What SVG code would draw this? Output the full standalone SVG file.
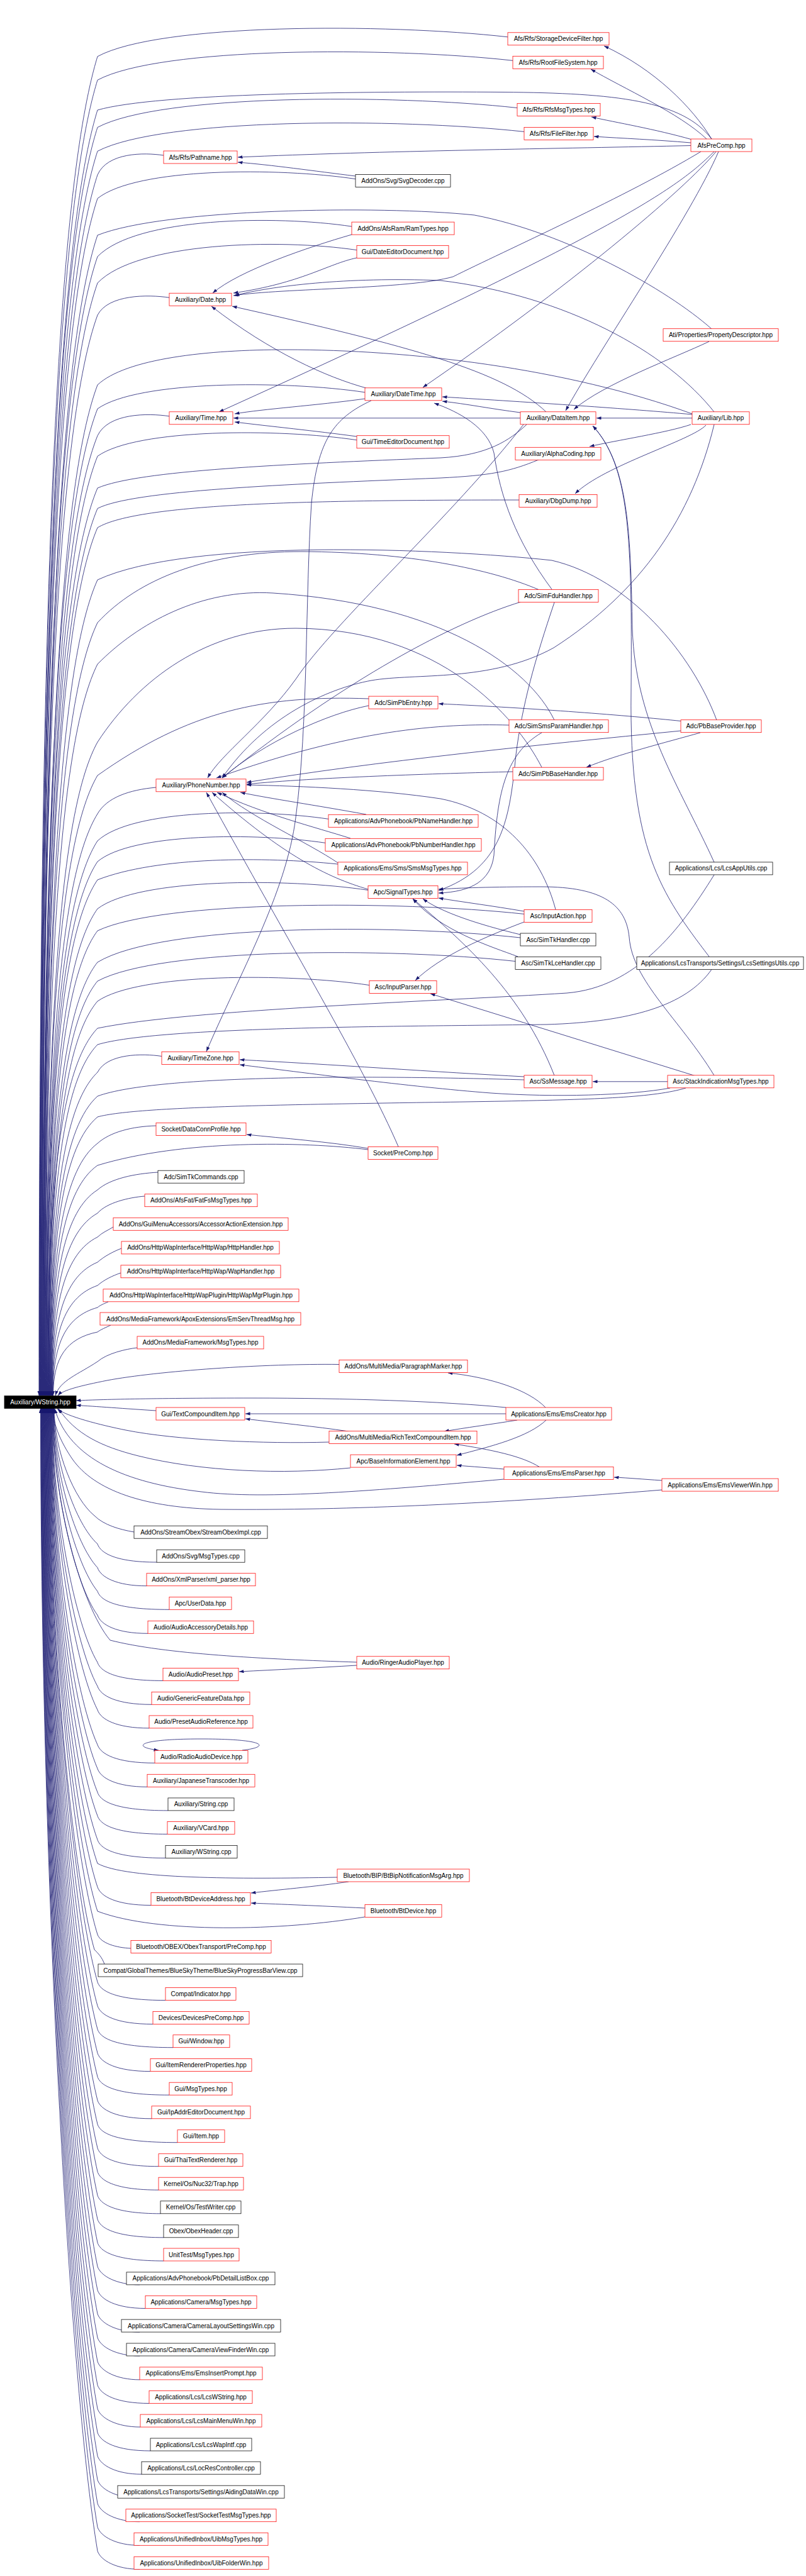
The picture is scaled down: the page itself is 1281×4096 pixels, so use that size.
<svg xmlns="http://www.w3.org/2000/svg" width="1281" height="4096" viewBox="0 0 1281 4096">
<defs>
<style>
.r rect{fill:#fff;stroke:#f00;stroke-width:.75}
.k rect{fill:#fff;stroke:#000;stroke-width:.75}
text{font-family:"Liberation Sans",Arial,sans-serif;font-size:10px;text-anchor:middle;fill:#000}
#root rect{fill:#000;stroke:#000;stroke-width:.75}
#root text{fill:#fff}
#edges path{fill:none;stroke:#191970;stroke-width:.8;marker-end:url(#ah)}
</style>
<marker id="ah" markerUnits="userSpaceOnUse" viewBox="0 0 10 7" markerWidth="7.5" markerHeight="5.3" refX="10" refY="3.5" orient="auto"><path d="M0,0 L10,3.5 L0,7 z" fill="#191970"/></marker>
</defs>
<rect width="1281" height="4096" fill="#fff"/>
<g id="edges">
<path d="M807,58.8 C611,36.8 253,36.8 155,89.8 C90,302.7 62,941.5 62,2219"/>
<path d="M815,96.3 C617,74.3 254,74.3 155,127.3 C90.3,336.5 62.5,964 62.5,2219"/>
<path d="M822,171.5 C622,149.5 255,149.5 155,202.5 C90.6,404.2 63,1009.1 63,2219"/>
<path d="M833,209.4 C630,187.4 257,187.4 155,240.4 C91,438.3 63.5,1031.8 63.5,2219"/>
<path d="M1131,221 C1085,160 980,148 800,146.5 C580,145 250,148 155,175 C91.3,382 64,994 64,2219"/>
<path d="M260,247 C228.5,242.3 170.8,242.3 155,278 C91.7,472 64.5,1054 64.5,2219"/>
<path d="M565,284.6 C442,266.1 216.5,266.1 155,315.6 C92,505.9 65,1077 65,2219"/>
<path d="M559,360.1 C438,341.9 216,345 155,408 C92.4,589 65.5,1132 65.5,2219"/>
<path d="M567,397.6 C443,379.1 217,385 155,450 C92.7,627 66,1158 66,2219"/>
<path d="M269,473.2 C234.8,468.1 172.1,468.1 155,501 C93,672.8 66.5,1188 66.5,2219"/>
<path d="M1131,523 C1060,460 900,370 754,342 C600,326 260,332 155,374 C93.4,558.5 67,1112 67,2219"/>
<path d="M580,623.8 C452.5,604.7 218.8,604.7 155,650 C93.8,807 67.5,1277.6 67.5,2219"/>
<path d="M269,661.8 C234.8,656.7 172.1,656.7 155,692.8 C94.1,845.4 68,1303.2 68,2219"/>
<path d="M837,675 C810,700 775,724 700,728 C450,738 220,748 155,776 C94.5,920.3 68.5,1353.2 68.5,2219"/>
<path d="M1100,658 C900,585 650,556 455,556 C330,556 200,570 155,612 C94.8,772.7 69,1254.8 69,2219"/>
<path d="M567,699.7 C443.4,681.2 216.8,681.2 155,725.4 C95.2,874.8 69.5,1322.8 69.5,2219"/>
<path d="M856,731 C810,750 780,756 700,760 C450,770 210,780 155,808.5 C95.5,949.6 70,1372.7 70,2219"/>
<path d="M825,795 C500,795 220,800 155,839 C96,977 70.5,1391 70.5,2219"/>
<path d="M856,937.5 C780,905 650,878 480,877 C330,877 220,920 155,990 C96.2,1112.9 71,1481.6 71,2219"/>
<path d="M1139,1145 C1100,1040 1000,920 877,891 C700,872 300,855 155,922 C96.6,1051.7 71.5,1440.8 71.5,2219"/>
<path d="M881,1145 C840,1060 700,960 434,943 C320,936 220,990 155,1056 C96.9,1172.3 72,1521.2 72,2219"/>
<path d="M586,1111 C420,1105 300,1130 155,1233 C97.3,1331.6 72.5,1627.4 72.5,2219"/>
<path d="M861,1220 C820,1140 700,1000 470,999 C330,999 220,1080 155,1180 C97.6,1283.9 73,1595.6 73,2219"/>
<path d="M248,1252 C205,1256 170,1268 155,1294 C98,1386.5 73.5,1664 73.5,2219"/>
<path d="M522,1302.3 C412,1285.8 210,1285.8 155,1337 C98.3,1425.2 74,1689.8 74,2219"/>
<path d="M517,1340.3 C408.4,1324 209.3,1324 155,1370 C98.7,1454.9 74.5,1709.6 74.5,2219"/>
<path d="M537,1374 C420,1362 250,1362 155,1399 C99,1481 75,1727 75,2219"/>
<path d="M1135,1391 C1080,1480 1010,1570 901,1579 C700,1592 300,1605 155,1635 C99.4,1693.4 75.5,1868.6 75.5,2219"/>
<path d="M585,1415.4 C456,1396 219.5,1396 155,1445 C99.7,1522.4 76,1754.6 76,2219"/>
<path d="M833,1453.4 C629.6,1431.4 256.7,1431.4 155,1480 C100,1553.9 76.5,1775.6 76.5,2219"/>
<path d="M827,1491 C625.4,1469 255.8,1469 155,1530 C100.4,1598.9 77,1805.6 77,2219"/>
<path d="M819,1528.5 C619.8,1506.5 254.6,1506.5 155,1560 C100.8,1625.9 77.5,1823.6 77.5,2219"/>
<path d="M1131,1541.5 C1090,1600 1000,1625 869,1629 C650,1632 250,1632 155,1661 C101.1,1716.8 78,1884.2 78,2219"/>
<path d="M587,1566.5 C457.4,1547.1 219.8,1547.1 155,1592 C101.5,1654.7 78.5,1842.8 78.5,2219"/>
<path d="M257,1679.5 C226.4,1674.9 170.3,1674.9 155,1705 C101.8,1756.4 79,1910.6 79,2219"/>
<path d="M833,1717 C600,1710 250,1708 155,1743 C102.2,1790.6 79.5,1933.4 79.5,2219"/>
<path d="M1090,1730 C1040,1745 950,1748 800,1751 C500,1756 220,1758 155,1776 C102.5,1820.3 80,1953.2 80,2219"/>
<path d="M248,1790 C210,1791 175,1800 155,1818 C102.9,1858.1 80.5,1978.4 80.5,2219"/>
<path d="M585,1828 C480,1815 290,1812 155,1853 C103.2,1889.6 81,1999.4 81,2219"/>
<path d="M251,1864 C215,1866 175,1874 155,1892 C103.6,1924.7 81.5,2022.8 81.5,2219"/>
<path d="M230,1902 C205,1904 170,1912 155,1929 C103.9,1958 82,2045 82,2219"/>
<path d="M180,1951 C172,1956 162,1960 155,1967 C104.3,1992.2 82.5,2067.8 82.5,2219"/>
<path d="M193,1985 C180,1990 165,1998 155,2007 C104.6,2028.2 83,2091.8 83,2219"/>
<path d="M192,2024 C180,2028 165,2035 155,2044 C104.9,2061.5 83.5,2114 83.5,2219"/>
<path d="M172,2070 C165,2073 158,2076 155,2079 C105.3,2093 84,2135 84,2219"/>
<path d="M176,2107 C168,2111 160,2114 155,2118 C105.7,2128.1 84.5,2158.4 84.5,2219"/>
<path d="M218,2143 C200,2145 170,2152 155,2165 C125,2185 95,2195 88,2219"/>
<path d="M539,2169.5 C420,2168 250,2180 170,2195 C130,2203 100,2210 92,2219"/>
<path d="M248,2243 C200,2240 150,2236 121,2234.5"/>
<path d="M804,2238 C700,2228 550,2223 400,2223 C250,2223 170,2225 121,2227"/>
<path d="M523,2293 C420,2296 280,2290 200,2274 C160,2266 105,2252 91,2240"/>
<path d="M557,2334 C450,2345 320,2340 220,2315 C160,2300 120,2280 93,2240"/>
<path d="M801,2352 C600,2370 420,2385 320,2372 C200,2358 110,2320 87,2240"/>
<path d="M1052,2369 C800,2390 550,2402 350,2400 C230,2398 150,2370 115,2320 C98,2295 85,2268 84,2240"/>
<path d="M567,2643 C420,2638 260,2630 175,2608 C129,2553 83.5,2386.6 83.5,2239"/>
<path d="M213,2436 C190,2432 165,2425 150,2410 C118,2384 86,2307 86,2239"/>
<path d="M249,2484 C185,2484 160,2470 155,2455 C120,2423 85.5,2325.5 85.5,2239"/>
<path d="M233,2521.7 C185,2521.7 160,2507.7 155,2492.7 C120,2454.7 85,2340.5 85,2239"/>
<path d="M269,2559.3 C185,2559.3 160,2545.3 155,2530.3 C119.8,2486.6 84.5,2355.5 84.5,2239"/>
<path d="M235,2597.3 C185,2597.3 160,2583.3 155,2568.3 C119.5,2518.9 84,2370.7 84,2239"/>
<path d="M259,2672.4 C185,2672.4 160,2658.4 155,2643.4 C119,2582.7 83,2400.8 83,2239"/>
<path d="M241,2710.3 C185,2710.3 160,2696.3 155,2681.3 C118.8,2615 82.5,2415.9 82.5,2239"/>
<path d="M237,2747.9 C185,2747.9 160,2733.9 155,2718.9 C118.5,2646.9 82,2431 82,2239"/>
<path d="M246,2803.3 C185,2803.3 160,2789.3 155,2774.3 C118.3,2694 81.5,2453.1 81.5,2239"/>
<path d="M234,2841.3 C185,2841.3 160,2827.3 155,2812.3 C118,2726.3 81,2468.3 81,2239"/>
<path d="M267,2878.9 C185,2878.9 160,2864.9 155,2849.9 C117.8,2758.3 80.5,2483.4 80.5,2239"/>
<path d="M266,2916.4 C185,2916.4 160,2902.4 155,2887.4 C117.5,2790.1 80,2498.4 80,2239"/>
<path d="M263,2954.4 C185,2954.4 160,2940.4 155,2925.4 C117.3,2822.4 79.5,2513.6 79.5,2239"/>
<path d="M536,2985 C380,2988 200,2988 155,2963 C117,2854.4 79,2528.6 79,2239"/>
<path d="M240,3029.5 C185,3029.5 160,3015.5 155,3000.5 C116.8,2886.3 78.5,2543.6 78.5,2239"/>
<path d="M580,3048 C450,3070 250,3075 155,3039 C116.5,2919 78,2559 78,2239"/>
<path d="M208,3098 C185,3097 160,3090 155,3076 C116.3,2950.4 77.5,2573.8 77.5,2239"/>
<path d="M166,3123 C162,3112 156,3106 150,3100 C113.5,2971 77,2583.4 77,2239"/>
<path d="M263,3180.6 C185,3180.6 160,3166.6 155,3151.6 C115.8,3014.7 76.5,2604 76.5,2239"/>
<path d="M243,3218.5 C185,3218.5 160,3204.5 155,3189.5 C115.5,3046.9 76,2619.2 76,2239"/>
<path d="M275,3255.7 C185,3255.7 160,3241.7 155,3226.7 C115.3,3078.5 75.5,2634.1 75.5,2239"/>
<path d="M239,3293.6 C185,3293.6 160,3279.6 155,3264.6 C115,3110.8 75,2649.2 75,2239"/>
<path d="M269,3331.2 C185,3331.2 160,3317.2 155,3302.2 C114.8,3142.7 74.5,2664.3 74.5,2239"/>
<path d="M241,3368.8 C185,3368.8 160,3354.8 155,3339.8 C114.5,3174.7 74,2679.3 74,2239"/>
<path d="M282,3406.7 C185,3406.7 160,3392.7 155,3377.7 C114.3,3206.9 73.5,2694.5 73.5,2239"/>
<path d="M252,3444.7 C185,3444.7 160,3430.7 155,3415.7 C114,3239.2 73,2709.7 73,2239"/>
<path d="M252,3482.2 C185,3482.2 160,3468.2 155,3453.2 C113.8,3271.1 72.5,2724.7 72.5,2239"/>
<path d="M255,3519.8 C185,3519.8 160,3505.8 155,3490.8 C113.5,3303 72,2739.7 72,2239"/>
<path d="M260,3557.8 C185,3557.8 160,3543.8 155,3528.8 C113.3,3335.3 71.5,2754.9 71.5,2239"/>
<path d="M260,3595 C185,3595 160,3581 155,3566 C113,3367 71,2769.8 71,2239"/>
<path d="M222,3632.9 C185,3632.9 160,3618.9 155,3603.9 C112.8,3399.2 70.5,2785 70.5,2239"/>
<path d="M231,3670.5 C185,3670.5 160,3656.5 155,3641.5 C112.5,3431.1 70,2800 70,2239"/>
<path d="M222,3708.1 C185,3708.1 160,3694.1 155,3679.1 C112.3,3463.1 69.5,2815 69.5,2239"/>
<path d="M222,3746 C185,3746 160,3732 155,3717 C112,3495.3 69,2830.2 69,2239"/>
<path d="M222,3783.9 C185,3783.9 160,3769.9 155,3754.9 C111.8,3527.5 68.5,2845.4 68.5,2239"/>
<path d="M237,3821.5 C185,3821.5 160,3807.5 155,3792.5 C111.5,3559.5 68,2860.4 68,2239"/>
<path d="M223,3859.1 C185,3859.1 160,3845.1 155,3830.1 C111.3,3591.4 67.5,2875.4 67.5,2239"/>
<path d="M239,3897 C185,3897 160,3883 155,3868 C111,3623.6 67,2890.6 67,2239"/>
<path d="M225,3934.2 C185,3934.2 160,3920.2 155,3905.2 C110.8,3655.3 66.5,2905.5 66.5,2239"/>
<path d="M222,3972.2 C185,3972.2 160,3958.2 155,3943.2 C110.5,3687.6 66,2920.7 66,2239"/>
<path d="M222,4009.7 C185,4009.7 160,3995.7 155,3980.7 C110.3,3719.4 65.5,2935.7 65.5,2239"/>
<path d="M222,4047.3 C185,4047.3 160,4033.3 155,4018.3 C110,3751.4 65,2950.7 65,2239"/>
<path d="M222,4085.3 C185,4085.3 160,4071.3 155,4056.3 C109.8,3783.7 64.5,2965.9 64.5,2239"/>
<path d="M385,2783 C430,2778 425,2765 320,2765 C215,2765 210,2778 252,2783"/>
<path d="M1131,221 C1100,170 1040,110 960,73"/>
<path d="M1123,221 C1080,180 990,140 939,110"/>
<path d="M1100,222 C1040,205 980,195 940,186"/>
<path d="M1098,227 C1040,222 990,220 944,217"/>
<path d="M1098,231.5 C900,236 600,240 378,250"/>
<path d="M565,280 C500,272 430,262 378,258"/>
<path d="M1114,241 C1000,310 800,400 720,440 C650,460 450,458 371,470"/>
<path d="M1135,241 C1080,295 1000,360 348,655"/>
<path d="M1138,241 C1090,300 900,460 672,616"/>
<path d="M1142,241 C1100,340 950,560 899,653"/>
<path d="M559,373 C490,393 380,430 338,466"/>
<path d="M567,410 C520,420 480,450 371,466"/>
<path d="M1135,655 C1060,560 900,470 700,446 C550,440 430,455 373,470"/>
<path d="M582,617 C520,600 430,560 336,487"/>
<path d="M868,655 C800,590 650,550 369,487"/>
<path d="M580,634 C500,645 420,650 373,658"/>
<path d="M827,664.8 L371,664.8"/>
<path d="M567,694 C500,685 430,678 373,671"/>
<path d="M1100,659 C1000,650 850,640 703,631"/>
<path d="M827,656 C780,650 740,642 703,638"/>
<path d="M877,937 C820,860 795,790 785,720 C775,680 730,655 690,641"/>
<path d="M1127,543 C1070,570 960,610 912,651"/>
<path d="M1100,664.8 L948,664.8"/>
<path d="M1127,1521 C1050,1420 1000,1350 1003,1100 C1005,850 1000,740 942,677"/>
<path d="M1135,1371 C1080,1250 1010,1150 1005,1000 C1002,850 1000,740 942,677"/>
<path d="M1098,675 C1060,688 980,700 937,710"/>
<path d="M1122,676 C1100,700 960,740 914,785"/>
<path d="M1135,675 C1100,820 1020,940 880,1030 C780,1085 660,1070 590,1082 C520,1095 420,1140 353,1237"/>
<path d="M832,675 C720,820 530,990 470,1080 C420,1150 350,1200 330,1237"/>
<path d="M828,957 C720,990 550,1080 353,1237"/>
<path d="M586,1122 C520,1135 420,1180 353,1237"/>
<path d="M809,1153 C700,1150 560,1160 344,1237"/>
<path d="M1082,1146.5 C1000,1138 850,1126 697,1119"/>
<path d="M1082,1162 C850,1185 600,1210 392,1244"/>
<path d="M1113,1165 C1060,1180 980,1200 932,1220"/>
<path d="M815,1227 C700,1230 500,1236 392,1247"/>
<path d="M582,1295 C500,1280 430,1270 382,1260"/>
<path d="M557,1333 C500,1315 420,1295 345,1260"/>
<path d="M537,1372 C490,1340 400,1300 353,1260"/>
<path d="M585,1414 C520,1395 450,1360 337,1260"/>
<path d="M633,1823 C580,1700 460,1500 328,1260"/>
<path d="M883,1446 C860,1360 800,1290 700,1270 C600,1255 480,1250 392,1248"/>
<path d="M861,1165 C800,1200 790,1270 785,1360 C780,1400 750,1418 697,1420"/>
<path d="M881,958 C850,1050 830,1120 820,1200 C810,1300 800,1380 697,1416"/>
<path d="M833,1449 C780,1440 740,1435 697,1428"/>
<path d="M827,1486 C760,1470 700,1450 672,1429"/>
<path d="M823,1521 C780,1505 700,1480 656,1429"/>
<path d="M1135,1710 C1080,1620 1005,1560 1000,1490 C995,1440 960,1410 860,1410 C780,1410 730,1412 697,1414"/>
<path d="M833,1466 C770,1490 700,1520 660,1559"/>
<path d="M1106,1711 L684,1580"/>
<path d="M881,1710 C830,1580 740,1500 656,1429"/>
<path d="M833,1712 C700,1705 520,1692 381,1685"/>
<path d="M1065,1730 C1000,1742 880,1745 780,1738 C650,1728 480,1705 381,1693"/>
<path d="M590,637 C530,665 505,700 495,800 C485,950 490,1150 470,1300 C455,1420 380,1550 328,1672"/>
<path d="M1061,1719.8 L942,1719.8"/>
<path d="M585,1826 C520,1815 450,1810 392,1804"/>
<path d="M804,2248 L390,2248"/>
<path d="M867,2238 C840,2210 780,2190 712,2183"/>
<path d="M822,2258 C780,2265 740,2270 706,2276"/>
<path d="M868,2258 C840,2285 780,2300 726,2314"/>
<path d="M554,2276 C500,2268 440,2262 390,2256"/>
<path d="M858,2333 C830,2315 780,2305 722,2296"/>
<path d="M801,2336 C780,2334 750,2332 726,2330"/>
<path d="M1052,2354 C1020,2352 1000,2350 976,2349"/>
<path d="M567,2648 C500,2652 440,2655 380,2658"/>
<path d="M554,2992 C500,3000 440,3005 399,3010"/>
<path d="M580,3034 C500,3030 450,3028 399,3026"/>
</g>
<g id="nodes">
<g id="n1" class="r"><rect x="807" y="51.8" width="161" height="20"/><text x="887.5" y="65.3">Afs/Rfs/StorageDeviceFilter.hpp</text></g>
<g id="n2" class="r"><rect x="815" y="89.3" width="144" height="20"/><text x="887" y="102.8">Afs/Rfs/RootFileSystem.hpp</text></g>
<g id="n3" class="r"><rect x="822" y="164.5" width="132" height="20"/><text x="888" y="178">Afs/Rfs/RfsMsgTypes.hpp</text></g>
<g id="n4" class="r"><rect x="833" y="202.4" width="110" height="20"/><text x="888" y="215.9">Afs/Rfs/FileFilter.hpp</text></g>
<g id="n5" class="r"><rect x="1098" y="221" width="97" height="20"/><text x="1146.5" y="234.5">AfsPreComp.hpp</text></g>
<g id="n6" class="r"><rect x="260" y="240" width="117" height="20"/><text x="318.5" y="253.5">Afs/Rfs/Pathname.hpp</text></g>
<g id="n7" class="k"><rect x="565" y="277.6" width="151" height="20"/><text x="640.5" y="291.1">AddOns/Svg/SvgDecoder.cpp</text></g>
<g id="n8" class="r"><rect x="559" y="353.1" width="163" height="20"/><text x="640.5" y="366.6">AddOns/AfsRam/RamTypes.hpp</text></g>
<g id="n9" class="r"><rect x="567" y="390.6" width="146" height="20"/><text x="640" y="404.1">Gui/DateEditorDocument.hpp</text></g>
<g id="n10" class="r"><rect x="269" y="466.2" width="99" height="20"/><text x="318.5" y="479.7">Auxiliary/Date.hpp</text></g>
<g id="n11" class="r"><rect x="1054" y="522.7" width="183" height="20"/><text x="1145.5" y="536.2">Ati/Properties/PropertyDescriptor.hpp</text></g>
<g id="n12" class="r"><rect x="580" y="616.8" width="122" height="20"/><text x="641" y="630.3">Auxiliary/DateTime.hpp</text></g>
<g id="n13" class="r"><rect x="269" y="654.8" width="101" height="20"/><text x="319.5" y="668.3">Auxiliary/Time.hpp</text></g>
<g id="n14" class="r"><rect x="827" y="654.8" width="120" height="20"/><text x="887" y="668.3">Auxiliary/DataItem.hpp</text></g>
<g id="n15" class="r"><rect x="1100" y="654.8" width="91" height="20"/><text x="1145.5" y="668.3">Auxiliary/Lib.hpp</text></g>
<g id="n16" class="r"><rect x="567" y="692.7" width="147" height="20"/><text x="640.5" y="706.2">Gui/TimeEditorDocument.hpp</text></g>
<g id="n17" class="r"><rect x="819" y="711.3" width="136" height="20"/><text x="887" y="724.8">Auxiliary/AlphaCoding.hpp</text></g>
<g id="n18" class="r"><rect x="825" y="786.5" width="124" height="20"/><text x="887" y="800">Auxiliary/DbgDump.hpp</text></g>
<g id="n19" class="r"><rect x="824" y="937.5" width="127" height="20"/><text x="887.5" y="951">Adc/SimFduHandler.hpp</text></g>
<g id="n20" class="r"><rect x="586" y="1107.1" width="110" height="20"/><text x="641" y="1120.6">Adc/SimPbEntry.hpp</text></g>
<g id="n21" class="r"><rect x="809" y="1144.7" width="158" height="20"/><text x="888" y="1158.2">Adc/SimSmsParamHandler.hpp</text></g>
<g id="n22" class="r"><rect x="1082" y="1144.7" width="128" height="20"/><text x="1146" y="1158.2">Adc/PbBaseProvider.hpp</text></g>
<g id="n23" class="r"><rect x="815" y="1220.2" width="144" height="20"/><text x="887" y="1233.7">Adc/SimPbBaseHandler.hpp</text></g>
<g id="n24" class="r"><rect x="248" y="1238.8" width="143" height="20"/><text x="319.5" y="1252.3">Auxiliary/PhoneNumber.hpp</text></g>
<g id="n25" class="r"><rect x="522" y="1295.3" width="238" height="20"/><text x="641" y="1308.8">Applications/AdvPhonebook/PbNameHandler.hpp</text></g>
<g id="n26" class="r"><rect x="517" y="1333.3" width="248" height="20"/><text x="641" y="1346.8">Applications/AdvPhonebook/PbNumberHandler.hpp</text></g>
<g id="n27" class="r"><rect x="537" y="1370.9" width="206" height="20"/><text x="640" y="1384.4">Applications/Ems/Sms/SmsMsgTypes.hpp</text></g>
<g id="n28" class="k"><rect x="1064" y="1370.9" width="164" height="20"/><text x="1146" y="1384.4">Applications/Lcs/LcsAppUtils.cpp</text></g>
<g id="n29" class="r"><rect x="585" y="1408.4" width="111" height="20"/><text x="640.5" y="1421.9">Apc/SignalTypes.hpp</text></g>
<g id="n30" class="r"><rect x="833" y="1446.4" width="108" height="20"/><text x="887" y="1459.9">Asc/InputAction.hpp</text></g>
<g id="n31" class="k"><rect x="827" y="1484" width="120" height="20"/><text x="887" y="1497.5">Asc/SimTkHandler.cpp</text></g>
<g id="n32" class="k"><rect x="819" y="1521.5" width="136" height="20"/><text x="887" y="1535">Asc/SimTkLceHandler.cpp</text></g>
<g id="n33" class="k"><rect x="1012" y="1521.5" width="265" height="20"/><text x="1144.5" y="1535">Applications/LcsTransports/Settings/LcsSettingsUtils.cpp</text></g>
<g id="n34" class="r"><rect x="587" y="1559.5" width="107" height="20"/><text x="640.5" y="1573">Asc/InputParser.hpp</text></g>
<g id="n35" class="r"><rect x="257" y="1672.5" width="123" height="20"/><text x="318.5" y="1686">Auxiliary/TimeZone.hpp</text></g>
<g id="n36" class="r"><rect x="833" y="1709.8" width="108" height="20"/><text x="887" y="1723.3">Asc/SsMessage.hpp</text></g>
<g id="n37" class="r"><rect x="1061" y="1709.8" width="169" height="20"/><text x="1145.5" y="1723.3">Asc/StackIndicationMsgTypes.hpp</text></g>
<g id="n38" class="r"><rect x="248" y="1785.6" width="143" height="20"/><text x="319.5" y="1799.1">Socket/DataConnProfile.hpp</text></g>
<g id="n39" class="r"><rect x="585" y="1823.6" width="111" height="20"/><text x="640.5" y="1837.1">Socket/PreComp.hpp</text></g>
<g id="n40" class="k"><rect x="251" y="1861.2" width="137" height="20"/><text x="319.5" y="1874.7">Adc/SimTkCommands.cpp</text></g>
<g id="n41" class="r"><rect x="230" y="1898.7" width="179" height="20"/><text x="319.5" y="1912.2">AddOns/AfsFat/FatFsMsgTypes.hpp</text></g>
<g id="n42" class="r"><rect x="180" y="1936.3" width="278" height="20"/><text x="319" y="1949.8">AddOns/GuiMenuAccessors/AccessorActionExtension.hpp</text></g>
<g id="n43" class="r"><rect x="193" y="1973.9" width="251" height="20"/><text x="318.5" y="1987.4">AddOns/HttpWapInterface/HttpWap/HttpHandler.hpp</text></g>
<g id="n44" class="r"><rect x="192" y="2011.8" width="254" height="20"/><text x="319" y="2025.3">AddOns/HttpWapInterface/HttpWap/WapHandler.hpp</text></g>
<g id="n45" class="r"><rect x="164" y="2049.8" width="311" height="20"/><text x="319.5" y="2063.3">AddOns/HttpWapInterface/HttpWapPlugin/HttpWapMgrPlugin.hpp</text></g>
<g id="n46" class="r"><rect x="159" y="2087" width="319" height="20"/><text x="318.5" y="2100.5">AddOns/MediaFramework/ApoxExtensions/EmServThreadMsg.hpp</text></g>
<g id="n47" class="r"><rect x="218" y="2124.9" width="201" height="20"/><text x="318.5" y="2138.4">AddOns/MediaFramework/MsgTypes.hpp</text></g>
<g id="n48" class="r"><rect x="539" y="2162.5" width="204" height="20"/><text x="641" y="2176">AddOns/MultiMedia/ParagraphMarker.hpp</text></g>
<g id="root"><rect x="7" y="2219.4" width="114" height="20"/><text x="64" y="2232.9">Auxiliary/WString.hpp</text></g>
<g id="n50" class="r"><rect x="248" y="2238" width="141" height="20"/><text x="318.5" y="2251.5">Gui/TextCompoundItem.hpp</text></g>
<g id="n51" class="r"><rect x="804" y="2238" width="168" height="20"/><text x="888" y="2251.5">Applications/Ems/EmsCreator.hpp</text></g>
<g id="n52" class="r"><rect x="523" y="2275.6" width="235" height="20"/><text x="640.5" y="2289.1">AddOns/MultiMedia/RichTextCompoundItem.hpp</text></g>
<g id="n53" class="r"><rect x="557" y="2313.1" width="168" height="20"/><text x="641" y="2326.6">Apc/BaseInformationElement.hpp</text></g>
<g id="n54" class="r"><rect x="801" y="2332.5" width="174" height="20"/><text x="888" y="2346">Applications/Ems/EmsParser.hpp</text></g>
<g id="n55" class="r"><rect x="1052" y="2351.1" width="185" height="20"/><text x="1144.5" y="2364.6">Applications/Ems/EmsViewerWin.hpp</text></g>
<g id="n56" class="k"><rect x="213" y="2426.2" width="212" height="20"/><text x="319" y="2439.7">AddOns/StreamObex/StreamObexImpl.cpp</text></g>
<g id="n57" class="k"><rect x="249" y="2464.2" width="140" height="20"/><text x="319" y="2477.7">AddOns/Svg/MsgTypes.cpp</text></g>
<g id="n58" class="r"><rect x="233" y="2501.7" width="173" height="20"/><text x="319.5" y="2515.2">AddOns/XmlParser/xml_parser.hpp</text></g>
<g id="n59" class="r"><rect x="269" y="2539.3" width="99" height="20"/><text x="318.5" y="2552.8">Apc/UserData.hpp</text></g>
<g id="n60" class="r"><rect x="235" y="2577.3" width="168" height="20"/><text x="319" y="2590.8">Audio/AudioAccessoryDetails.hpp</text></g>
<g id="n61" class="r"><rect x="567" y="2633.8" width="147" height="20"/><text x="640.5" y="2647.3">Audio/RingerAudioPlayer.hpp</text></g>
<g id="n62" class="r"><rect x="259" y="2652.4" width="120" height="20"/><text x="319" y="2665.9">Audio/AudioPreset.hpp</text></g>
<g id="n63" class="r"><rect x="241" y="2690.3" width="156" height="20"/><text x="319" y="2703.8">Audio/GenericFeatureData.hpp</text></g>
<g id="n64" class="r"><rect x="237" y="2727.9" width="165" height="20"/><text x="319.5" y="2741.4">Audio/PresetAudioReference.hpp</text></g>
<g id="n65" class="r"><rect x="246" y="2783.3" width="148" height="20"/><text x="320" y="2796.8">Audio/RadioAudioDevice.hpp</text></g>
<g id="n66" class="r"><rect x="234" y="2821.3" width="171" height="20"/><text x="319.5" y="2834.8">Auxiliary/JapaneseTranscoder.hpp</text></g>
<g id="n67" class="k"><rect x="267" y="2858.9" width="105" height="20"/><text x="319.5" y="2872.4">Auxiliary/String.cpp</text></g>
<g id="n68" class="r"><rect x="266" y="2896.4" width="107" height="20"/><text x="319.5" y="2909.9">Auxiliary/VCard.hpp</text></g>
<g id="n69" class="k"><rect x="263" y="2934.4" width="114" height="20"/><text x="320" y="2947.9">Auxiliary/WString.cpp</text></g>
<g id="n70" class="r"><rect x="536" y="2972" width="210" height="20"/><text x="641" y="2985.5">Bluetooth/BIP/BtBipNotificationMsgArg.hpp</text></g>
<g id="n71" class="r"><rect x="240" y="3009.5" width="158" height="20"/><text x="319" y="3023">Bluetooth/BtDeviceAddress.hpp</text></g>
<g id="n72" class="r"><rect x="580" y="3028.5" width="122" height="20"/><text x="641" y="3042">Bluetooth/BtDevice.hpp</text></g>
<g id="n73" class="r"><rect x="208" y="3085.4" width="223" height="20"/><text x="319.5" y="3098.9">Bluetooth/OBEX/ObexTransport/PreComp.hpp</text></g>
<g id="n74" class="k"><rect x="156" y="3123" width="325" height="20"/><text x="318.5" y="3136.5">Compat/GlobalThemes/BlueSkyTheme/BlueSkyProgressBarView.cpp</text></g>
<g id="n75" class="r"><rect x="263" y="3160.6" width="112" height="20"/><text x="319" y="3174.1">Compat/Indicator.hpp</text></g>
<g id="n76" class="r"><rect x="243" y="3198.5" width="153" height="20"/><text x="319.5" y="3212">Devices/DevicesPreComp.hpp</text></g>
<g id="n77" class="r"><rect x="275" y="3235.7" width="90" height="20"/><text x="320" y="3249.2">Gui/Window.hpp</text></g>
<g id="n78" class="r"><rect x="239" y="3273.6" width="161" height="20"/><text x="319.5" y="3287.1">Gui/ItemRendererProperties.hpp</text></g>
<g id="n79" class="r"><rect x="269" y="3311.2" width="100" height="20"/><text x="319" y="3324.7">Gui/MsgTypes.hpp</text></g>
<g id="n80" class="r"><rect x="241" y="3348.8" width="157" height="20"/><text x="319.5" y="3362.3">Gui/IpAddrEditorDocument.hpp</text></g>
<g id="n81" class="r"><rect x="282" y="3386.7" width="75" height="20"/><text x="319.5" y="3400.2">Gui/Item.hpp</text></g>
<g id="n82" class="r"><rect x="252" y="3424.7" width="134" height="20"/><text x="319" y="3438.2">Gui/ThaiTextRenderer.hpp</text></g>
<g id="n83" class="r"><rect x="252" y="3462.2" width="135" height="20"/><text x="319.5" y="3475.7">Kernel/Os/Nuc32/Trap.hpp</text></g>
<g id="n84" class="k"><rect x="255" y="3499.8" width="128" height="20"/><text x="319" y="3513.3">Kernel/Os/TestWriter.cpp</text></g>
<g id="n85" class="k"><rect x="260" y="3537.8" width="119" height="20"/><text x="319.5" y="3551.3">Obex/ObexHeader.cpp</text></g>
<g id="n86" class="r"><rect x="260" y="3575" width="120" height="20"/><text x="320" y="3588.5">UnitTest/MsgTypes.hpp</text></g>
<g id="n87" class="k"><rect x="201" y="3612.9" width="236" height="20"/><text x="319" y="3626.4">Applications/AdvPhonebook/PbDetailListBox.cpp</text></g>
<g id="n88" class="r"><rect x="231" y="3650.5" width="177" height="20"/><text x="319.5" y="3664">Applications/Camera/MsgTypes.hpp</text></g>
<g id="n89" class="k"><rect x="193" y="3688.1" width="253" height="20"/><text x="319.5" y="3701.6">Applications/Camera/CameraLayoutSettingsWin.cpp</text></g>
<g id="n90" class="k"><rect x="201" y="3726" width="236" height="20"/><text x="319" y="3739.5">Applications/Camera/CameraViewFinderWin.cpp</text></g>
<g id="n91" class="r"><rect x="222" y="3763.9" width="195" height="20"/><text x="319.5" y="3777.4">Applications/Ems/EmsInsertPrompt.hpp</text></g>
<g id="n92" class="r"><rect x="237" y="3801.5" width="164" height="20"/><text x="319" y="3815">Applications/Lcs/LcsWString.hpp</text></g>
<g id="n93" class="r"><rect x="223" y="3839.1" width="193" height="20"/><text x="319.5" y="3852.6">Applications/Lcs/LcsMainMenuWin.hpp</text></g>
<g id="n94" class="k"><rect x="239" y="3877" width="161" height="20"/><text x="319.5" y="3890.5">Applications/Lcs/LcsWapIntf.cpp</text></g>
<g id="n95" class="k"><rect x="225" y="3914.2" width="189" height="20"/><text x="319.5" y="3927.7">Applications/Lcs/LocResController.cpp</text></g>
<g id="n96" class="k"><rect x="187" y="3952.2" width="265" height="20"/><text x="319.5" y="3965.7">Applications/LcsTransports/Settings/AidingDataWin.cpp</text></g>
<g id="n97" class="r"><rect x="200" y="3989.7" width="239" height="20"/><text x="319.5" y="4003.2">Applications/SocketTest/SocketTestMsgTypes.hpp</text></g>
<g id="n98" class="r"><rect x="213" y="4027.3" width="213" height="20"/><text x="319.5" y="4040.8">Applications/UnifiedInbox/UibMsgTypes.hpp</text></g>
<g id="n99" class="r"><rect x="213" y="4065.3" width="214" height="20"/><text x="320" y="4078.8">Applications/UnifiedInbox/UibFolderWin.hpp</text></g>
</g>
</svg>
